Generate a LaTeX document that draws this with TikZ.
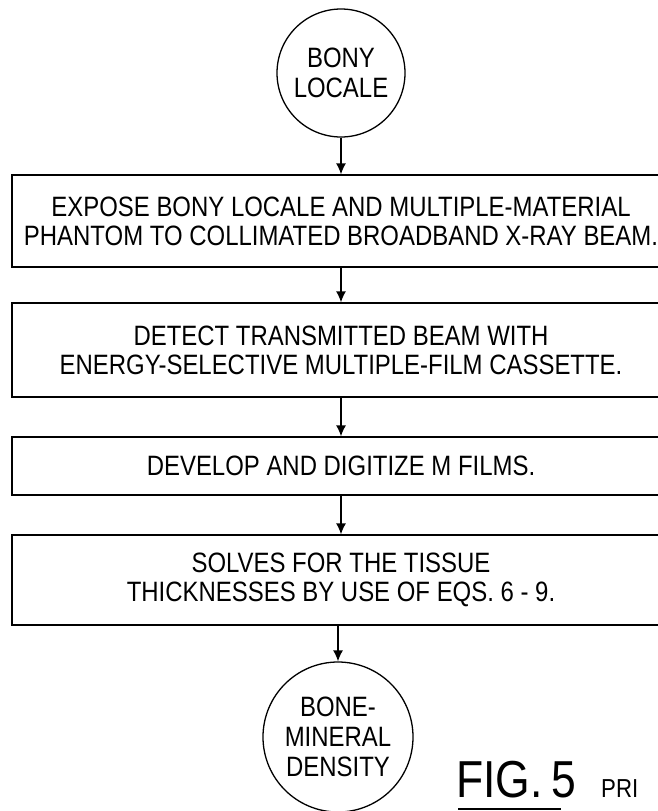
\documentclass[tikz,border=0pt]{standalone}
\usepackage{fontspec}
\setmainfont{Liberation Sans}[FakeStretch=0.855]
\usetikzlibrary{arrows.meta}

\begin{document}
\begin{tikzpicture}[x=1pt,y=-1pt]

  \tikzset{terminal/.style = {shape=circle,draw,line width=1.3pt,inner sep=0pt,align=center,font=\fontsize{28}{30}\selectfont}}
  \tikzset{stepbox/.style = {shape=rectangle,draw,line width=1.3pt,inner sep=0pt,minimum width=658pt,align=center,font=\fontsize{28}{29}\selectfont}}
  \tikzset{flow/.style = {-{Latex[length=11pt,width=10pt]},line width=1.3pt}}
  \useasboundingbox (0,0) rectangle (657,811);
  % nodes
  \node[terminal,minimum size=128pt] (locale) at (341,73) {BONY\\LOCALE};
  \node[stepbox,minimum height=92pt] (expose) at (341,221) {EXPOSE BONY LOCALE AND MULTIPLE-MATERIAL\\PHANTOM TO COLLIMATED BROADBAND X-RAY BEAM.};
  \node[stepbox,minimum height=94pt] (detect) at (341,350) {DETECT TRANSMITTED BEAM WITH\\ENERGY-SELECTIVE MULTIPLE-FILM CASSETTE.};
  \node[stepbox,minimum height=58pt] (develop) at (341,466) {DEVELOP AND DIGITIZE M FILMS.};
  \node[stepbox,minimum height=90pt] (solve) at (341,580) {SOLVES FOR THE TISSUE\\THICKNESSES BY USE OF EQS. 6 - 9.};
  \node[terminal,minimum size=150pt] (density) at (338,737) {BONE-\\MINERAL\\DENSITY};
  \node[anchor=base west,inner sep=0pt,font=\fontsize{52}{56}\selectfont] (fig) at (456,797) {FIG.\,5};
  \node[anchor=base west,inner sep=0pt,font=\fontsize{26}{28}\selectfont] (pri) at (601,797) {PRI};
  \draw[line width=1.3pt] ([xshift=2pt]fig.base west) ++(0,12) -- ++(103,0);
  % edges
  \draw[flow] (locale) -- (expose);
  \draw[flow] (expose) -- (detect);
  \draw[flow] (detect) -- (develop);
  \draw[flow] (develop) -- (solve);
  \draw[flow] (solve.south -| density) -- (density);
\end{tikzpicture}
\end{document}
